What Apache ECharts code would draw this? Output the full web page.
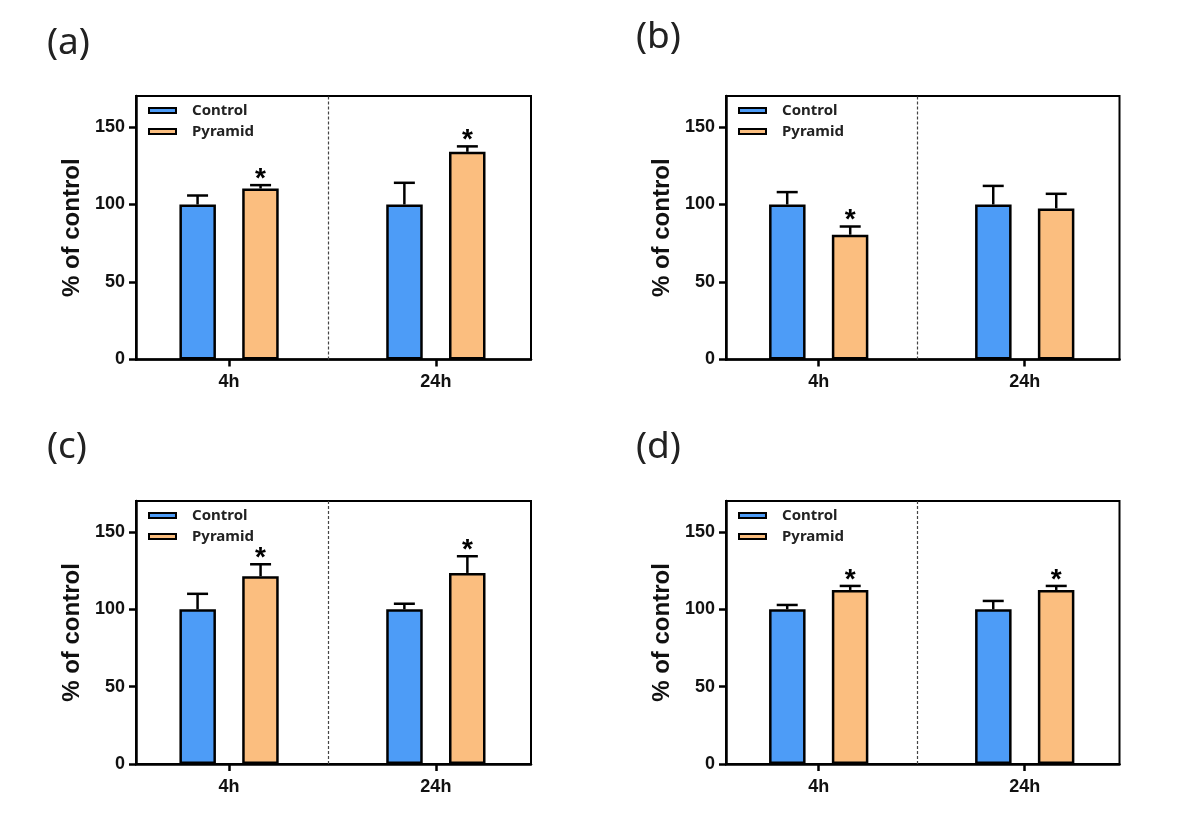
<!DOCTYPE html>
<html>
<head>
<meta charset="utf-8">
<title>% of control</title>
<script src="https://cdn.jsdelivr.net/npm/echarts@6/dist/echarts.min.js"></script>
<style>
  html, body { margin: 0; padding: 0; background: #fff; }
  #chart { width: 1188px; height: 822px; }
</style>
</head>
<body>
<div id="chart"></div>
<script>
// data
const timeLabels = ['4h', '24h']
const panelLabels = ['(a)', '(b)', '(c)', '(d)']
const yTicks = [0, 50, 100, 150]

const controlMean = [[100, 100], [100, 100], [100, 100], [100, 100]]
const controlSD = [[5.8, 14], [8, 12], [10, 3.6], [2.8, 5.4]]
const pyramidMean = [[110.3, 134], [80.5, 97.5], [121.3, 123.5], [112.5, 112.5]]
const pyramidSD = [[2.2, 3.5], [5.3, 9.4], [7.8, 10.8], [2.6, 2.6]]
const pyramidSig = [[1, 1], [1, 0], [1, 1], [1, 1]]

const dividerX = 0.48

// layout of the four panels
const grids = [
  { left: 136, top: 96, width: 395, height: 263.5 },
  { left: 726, top: 96, width: 393.5, height: 263.5 },
  { left: 136, top: 501, width: 395, height: 263 },
  { left: 726, top: 501, width: 393.5, height: 263 }
]
const letterPos = [[47, 25], [636, 19], [47, 429], [636, 429]]

const BLUE = '#4D9CF7'
const ORANGE = '#FBBE7F'
const AXIS_FONT = 'Liberation Sans'

const chart = echarts.init(document.getElementById('chart'))

// error bar (upper only) + asterisk
const errorRender = (offset) => (params, api) => {
  const x = api.value(0)
  const m = api.value(1)
  const sd = api.value(2)
  const sig = api.value(3)
  const p1 = api.coord([x, m])
  const p2 = api.coord([x, m + sd])
  const cx = p1[0] + offset
  const children = [
    { type: 'line', shape: { x1: cx, y1: p1[1], x2: cx, y2: p2[1] }, style: { stroke: '#000', lineWidth: 2.5 } },
    { type: 'line', shape: { x1: cx - 10.5, y1: p2[1], x2: cx + 10.5, y2: p2[1] }, style: { stroke: '#000', lineWidth: 2.5 } }
  ]
  if (sig) {
    children.push({
      type: 'text',
      style: {
        text: '*', x: cx, y: p2[1] - 6,
        align: 'center', verticalAlign: 'middle',
        font: 'bold 28px ' + AXIS_FONT, fill: '#000'
      }
    })
  }
  return { type: 'group', children }
}

const xAxis = [], yAxis = [], series = [], legend = [], graphic = []

grids.forEach((g, i) => {
  xAxis.push({
    type: 'value', gridIndex: i, min: -0.45, max: 1.46,
    axisLine: { show: true, onZero: false, lineStyle: { color: '#000', width: 2.5 } },
    axisTick: { show: true, customValues: [0, 1], length: 7, lineStyle: { color: '#000', width: 2.5 } },
    axisLabel: {
      customValues: [0, 1], formatter: v => timeLabels[Math.round(v)],
      margin: 14, color: '#111', fontSize: 18, fontWeight: 'bold', fontFamily: AXIS_FONT
    },
    splitLine: { show: false }
  })
  yAxis.push({
    type: 'value', gridIndex: i, min: 0, max: 170,
    name: '% of control', nameLocation: 'middle', nameGap: 52,
    nameTextStyle: { color: '#111', fontSize: 24, fontWeight: 'bold', fontFamily: AXIS_FONT },
    axisLine: { show: true, onZero: false, lineStyle: { color: '#000', width: 2.5 } },
    axisTick: { show: true, customValues: yTicks, length: 7, lineStyle: { color: '#000', width: 2.5 } },
    axisLabel: {
      customValues: yTicks, margin: 11,
      color: '#111', fontSize: 18, fontWeight: 'bold', fontFamily: AXIS_FONT
    },
    splitLine: { show: false }
  })

  series.push({
    name: 'Control', type: 'bar', xAxisIndex: i, yAxisIndex: i,
    barWidth: 36.5, barGap: '72%',
    itemStyle: { color: BLUE, borderColor: '#000', borderWidth: 2.5 },
    data: controlMean[i].map((v, k) => [k, v])
  })
  series.push({
    name: 'Pyramid', type: 'bar', xAxisIndex: i, yAxisIndex: i,
    barWidth: 36.5, barGap: '72%',
    itemStyle: { color: ORANGE, borderColor: '#000', borderWidth: 2.5 },
    data: pyramidMean[i].map((v, k) => [k, v])
  })
  series.push({
    type: 'custom', xAxisIndex: i, yAxisIndex: i, z: 5,
    renderItem: errorRender(-31.5),
    encode: { x: 0, y: 1 },
    data: controlMean[i].map((v, k) => [k, v, controlSD[i][k], 0]),
    markLine: {
      silent: true, symbol: 'none', label: { show: false },
      lineStyle: { color: '#444', width: 1.2, type: [3, 2] },
      data: [{ xAxis: dividerX }]
    }
  })
  series.push({
    type: 'custom', xAxisIndex: i, yAxisIndex: i, z: 5,
    renderItem: errorRender(31.5),
    encode: { x: 0, y: 1 },
    data: pyramidMean[i].map((v, k) => [k, v, pyramidSD[i][k], pyramidSig[i][k]])
  })

  legend.push({
    orient: 'vertical', left: g.left + 7, top: g.top + 2,
    itemWidth: 27, itemHeight: 5, itemGap: 6, icon: 'rect',
    selectedMode: false,
    textStyle: { color: '#222', fontSize: 15, fontWeight: 'bold', fontFamily: 'Noto Sans', padding: [0, 0, 0, 11], lineHeight: 14 },
    data: ['Control', 'Pyramid']
  })

  graphic.push({
    type: 'text', left: letterPos[i][0], top: letterPos[i][1],
    style: { text: panelLabels[i], font: '37px "Noto Sans"', fill: '#222' }
  })
})

chart.setOption({
  animation: false,
  grid: grids.map(g => Object.assign({ show: true, borderColor: '#000', borderWidth: 2, backgroundColor: 'transparent' }, g)),
  xAxis, yAxis, series, legend, graphic
})
</script>
</body>
</html>
